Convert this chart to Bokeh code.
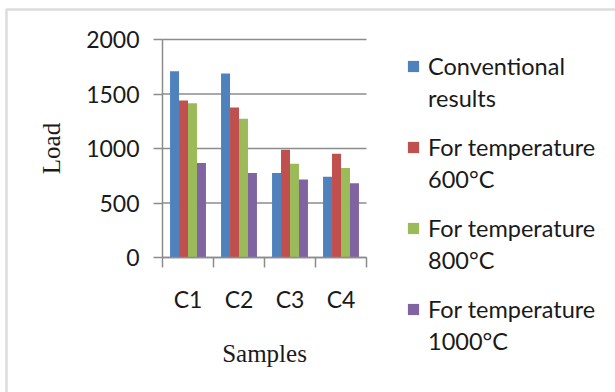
from bokeh.plotting import figure
from bokeh.models import (Range1d, FixedTicker, Legend, LegendItem, LinearAxis,
                          BoxAnnotation)
from bokeh.embed import file_html
from bokeh.resources import INLINE

categories = ["C1", "C2", "C3", "C4"]
label_line1 = ["Conventional", "For temperature", "For temperature", "For temperature"]
label_line2 = ["results", "600°C", "800°C", "1000°C"]
conventional = [1708, 1687, 776, 740]
temp_600 = [1441, 1377, 988, 951]
temp_800 = [1414, 1273, 859, 822]
temp_1000 = [868, 776, 715, 681]
colors = ["#4F81BD", "#C0504D", "#9BBB59", "#8064A2"]
y_ticks = [0, 500, 1000, 1500, 2000]

series = [conventional, temp_600, temp_800, temp_1000]

GRAY = "#8c8c8c"
TXT = "#1a1a1a"
SANS = "Lato"
SERIF = "Liberation Serif"

W, H = 615, 392
# plot-area placement inside the canvas (pixels)
AX_LEFT, AX_RIGHT, AX_TOP, AX_BOTTOM = 162, 366, 39, 257
n_cat = len(categories)
y_max = y_ticks[-1]
px_x = (AX_RIGHT - AX_LEFT) / n_cat          # pixels per category
px_y = (AX_BOTTOM - AX_TOP) / y_max          # pixels per load unit
x_range = Range1d(-AX_LEFT / px_x, (W - AX_LEFT) / px_x)
y_range = Range1d(-(H - AX_BOTTOM) / px_y, y_max + AX_TOP / px_y)

p = figure(width=W, height=H, x_range=x_range, y_range=y_range,
           output_backend="svg", toolbar_location=None,
           x_axis_location=None, y_axis_location=None, min_border=0)
p.outline_line_color = None
p.background_fill_color = "white"
p.border_fill_color = "white"
p.xgrid.grid_line_color = None
p.ygrid.grid_line_color = None

# horizontal gridlines across the category span
p.segment(x0=[0] * len(y_ticks), x1=[n_cat] * len(y_ticks), y0=y_ticks, y1=y_ticks,
          line_color=GRAY, line_width=1.5)

bar_w = 0.176
n = len(series)
renderers = []
for k, (vals, col) in enumerate(zip(series, colors)):
    off = (k - (n - 1) / 2) * bar_w
    xs = [i + 0.5 + off for i in range(n_cat)]
    renderers.append(p.vbar(x=xs, top=vals, width=bar_w, fill_color=col, line_color=None))

# y axis
yaxis = LinearAxis(fixed_location=0, bounds=(0, y_max), ticker=FixedTicker(ticks=y_ticks))
yaxis.axis_line_color = GRAY
yaxis.axis_line_width = 1.5
yaxis.major_tick_line_color = GRAY
yaxis.major_tick_line_width = 1.5
yaxis.major_tick_out = 9
yaxis.major_tick_in = 0
yaxis.minor_tick_line_color = None
yaxis.major_label_text_font = SANS
yaxis.major_label_text_font_size = "23px"
yaxis.major_label_text_color = TXT
yaxis.major_label_standoff = 14
yaxis.axis_label = "Load"
yaxis.axis_label_text_font = SERIF
yaxis.axis_label_text_font_size = "25px"
yaxis.axis_label_text_font_style = "normal"
yaxis.axis_label_text_color = TXT
yaxis.axis_label_standoff = 18
p.add_layout(yaxis, "left")

# x axis: labels at centres, ticks at boundaries
centers = [i + 0.5 for i in range(n_cat)]
bounds = [float(i) for i in range(n_cat + 1)]
xaxis = LinearAxis(fixed_location=0, bounds=(0, n_cat),
                   ticker=FixedTicker(ticks=centers, minor_ticks=bounds))
xaxis.major_label_overrides = {c: lab for c, lab in zip(centers, categories)}
xaxis.axis_line_color = GRAY
xaxis.axis_line_width = 1.5
xaxis.major_tick_line_color = None
xaxis.major_tick_out = 10
xaxis.major_tick_in = 0
xaxis.minor_tick_line_color = GRAY
xaxis.minor_tick_line_width = 1.5
xaxis.minor_tick_out = 10
xaxis.minor_tick_in = 0
xaxis.major_label_text_font = SANS
xaxis.major_label_text_font_size = "23px"
xaxis.major_label_text_color = TXT
xaxis.major_label_standoff = 17
xaxis.axis_label = "Samples"
xaxis.axis_label_text_font = SERIF
xaxis.axis_label_text_font_size = "25px"
xaxis.axis_label_text_font_style = "normal"
xaxis.axis_label_text_color = TXT
xaxis.axis_label_standoff = 24
p.add_layout(xaxis, "below")

# legend: first lines with colour keys, second lines aligned beneath
common = dict(label_text_font=SANS, label_text_font_size="23.5px",
              label_text_color=TXT, glyph_height=14, spacing=53,
              border_line_color=None, background_fill_alpha=0,
              margin=0, padding=0)
legend_a = Legend(items=[LegendItem(label=lab, renderers=[r]) for lab, r in zip(label_line1, renderers)],
                  location=(406, 69), glyph_width=14, label_standoff=8, **common)
legend_b = Legend(items=[LegendItem(label=lab, renderers=[r]) for lab, r in zip(label_line2, renderers)],
                  location=(406, 37), glyph_width=0, label_standoff=22, **common)
p.add_layout(legend_a)
p.add_layout(legend_b)

# chart-area border (top and left edges visible)
border = BoxAnnotation(left=6, right=W + 50, top=9, bottom=H + 50,
                       left_units="canvas", right_units="canvas",
                       top_units="canvas", bottom_units="canvas",
                       fill_alpha=0, line_color="#8a8a8a", line_width=2.5)
p.add_layout(border)

open("out.html", "w").write(file_html(p, INLINE))
